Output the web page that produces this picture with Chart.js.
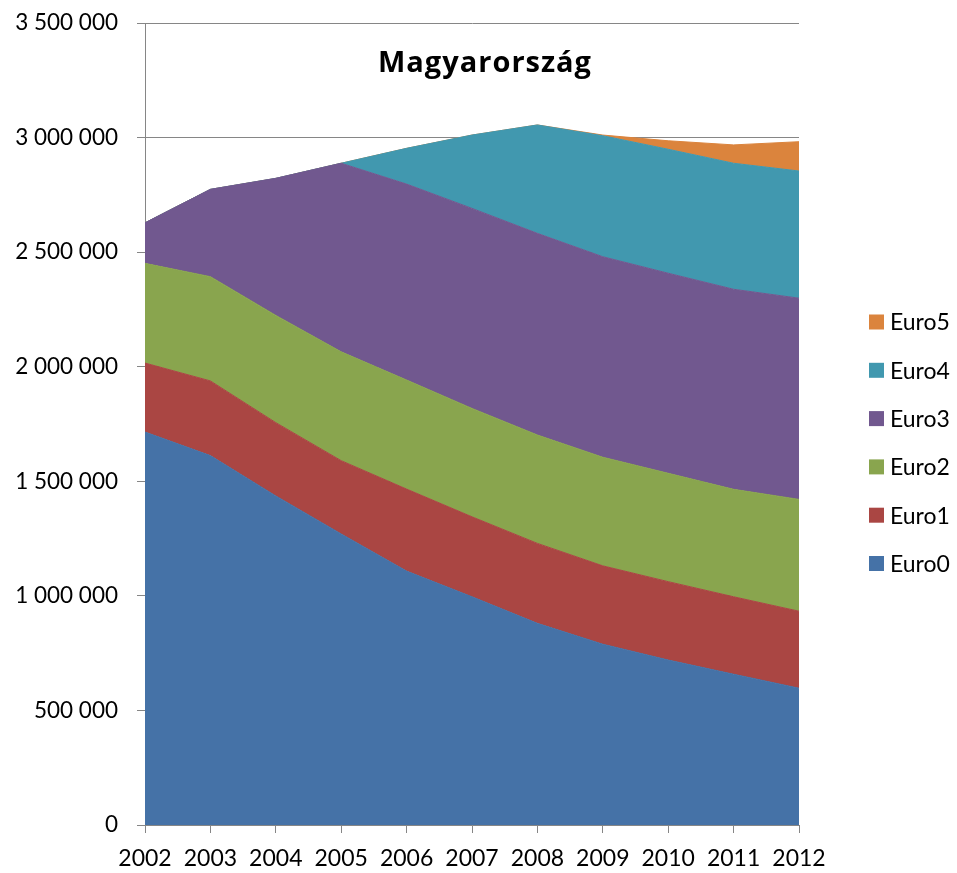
<!DOCTYPE html>
<html>
<head>
<meta charset="utf-8">
<script src="https://cdn.jsdelivr.net/npm/chart.js@4"></script>
<style>
  body { margin: 0; background: #fff; }
  #wrap { width: 957px; height: 873px; }
</style>
</head>
<body>
<div id="wrap"><canvas id="chart" width="957" height="873"></canvas></div>
<script>
// values (vehicles per emission class)
const years = ["2002", "2003", "2004", "2005", "2006", "2007", "2008", "2009", "2010", "2011", "2012"];
const euro0 = [1715000, 1612000, 1436000, 1270000, 1108000, 996000, 880000, 789000, 720000, 658000, 597000];
const euro1 = [301000, 326000, 320000, 320000, 358000, 349000, 349000, 342000, 342000, 338000, 336000];
const euro2 = [435000, 455000, 468000, 475000, 476000, 473000, 473000, 474000, 473000, 469000, 488000];
const euro3 = [177000, 381000, 598000, 823000, 855000, 873000, 880000, 875000, 873000, 873000, 878000];
const euro4 = [0, 0, 0, 0, 156000, 320000, 473000, 528000, 541000, 550000, 555000];
const euro5 = [0, 0, 0, 0, 0, 0, 0, 3000, 37000, 80000, 128000];
const yTicks = [0, 500000, 1000000, 1500000, 2000000, 2500000, 3000000, 3500000];

const chartTitle = "Magyarország";
const FONT = "Lato, 'Open Sans', sans-serif";
const AXIS = "#868686";

const series = [
  { label: "Euro0", data: euro0, color: "#4572A7" },
  { label: "Euro1", data: euro1, color: "#AA4643" },
  { label: "Euro2", data: euro2, color: "#89A54E" },
  { label: "Euro3", data: euro3, color: "#71588F" },
  { label: "Euro4", data: euro4, color: "#4198AF" },
  { label: "Euro5", data: euro5, color: "#DB843D" },
];

// thousands with a space, as in the original
const fmt = (v) => String(v).replace(/\B(?=(\d{3})+(?!\d))/g, " ");

// title sits inside the plot area, legend on the right (Euro5 on top)
const overlay = {
  id: "overlay",
  afterDraw(chart) {
    const { ctx, chartArea } = chart;
    ctx.save();
    ctx.fillStyle = "#000";
    ctx.font = "bold 29px 'Open Sans', sans-serif";
    ctx.letterSpacing = "1px";
    ctx.textAlign = "center";
    ctx.textBaseline = "alphabetic";
    ctx.fillText(chartTitle, (chartArea.left + chartArea.right) / 2 + 13, 72);
    ctx.letterSpacing = "0px";

    ctx.font = "23px " + FONT;
    ctx.textAlign = "left";
    ctx.textBaseline = "middle";
    const x = chartArea.right + 70;
    let y = 322;
    chart.data.datasets.slice().reverse().forEach((ds) => {
      ctx.fillStyle = ds.backgroundColor;
      ctx.fillRect(x, y - 7.5, 15, 15);
      ctx.fillStyle = "#000";
      ctx.fillText(ds.label, x + 21, y + 1);
      y += 48.3;
    });
    ctx.restore();
  },
};

new Chart(document.getElementById("chart").getContext("2d"), {
  type: "line",
  data: {
    labels: years,
    datasets: series.map((s, i) => ({
      label: s.label,
      data: s.data,
      backgroundColor: s.color,
      borderColor: s.color,
      borderWidth: 1,
      pointRadius: 0,
      tension: 0,
      fill: i === 0 ? "origin" : "-1",
    })),
  },
  options: {
    responsive: false,
    animation: false,
    layout: { padding: { top: 23, right: 158, left: 0, bottom: 0 } },
    plugins: {
      legend: { display: false },
      title: { display: false },
      tooltip: { enabled: false },
    },
    scales: {
      x: {
        offset: false,
        grid: { drawOnChartArea: false, color: AXIS, tickLength: 8 },
        border: { color: AXIS },
        ticks: {
          color: "#000",
          font: { family: FONT, size: 23 },
          padding: 12,
          maxRotation: 0,
          autoSkip: false,
        },
        afterFit: (scale) => { scale.height = 48; },
      },
      y: {
        stacked: true,
        min: 0,
        max: 3500000,
        grid: { color: AXIS, tickLength: 8 },
        border: { color: AXIS },
        afterBuildTicks: (scale) => { scale.ticks = yTicks.map((v) => ({ value: v })); },
        ticks: {
          color: "#000",
          font: { family: FONT, size: 22.5 },
          padding: 19,
          callback: (v) => fmt(v),
        },
        afterFit: (scale) => {
          scale.width = 145;
          scale.paddingTop = 0;
          scale.paddingBottom = 0;
        },
      },
    },
  },
  plugins: [overlay],
});
</script>
</body>
</html>
